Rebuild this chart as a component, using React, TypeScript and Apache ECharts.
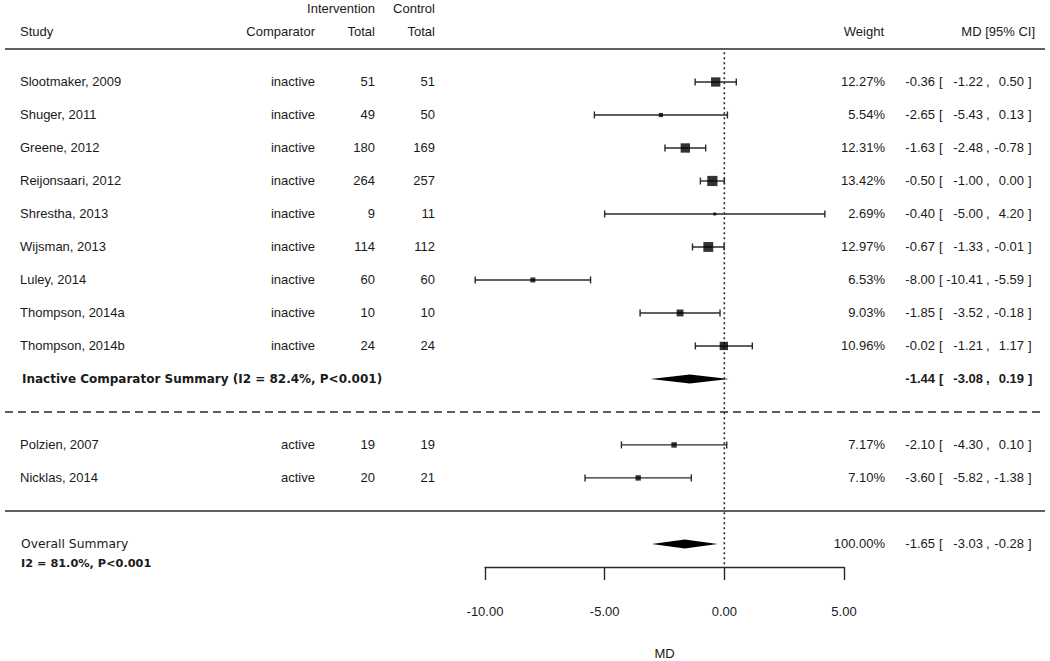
import React, { useEffect, useRef } from "react";
import * as echarts from "echarts";

const studies = [
  "Slootmaker, 2009", "Shuger, 2011", "Greene, 2012", "Reijonsaari, 2012", "Shrestha, 2013",
  "Wijsman, 2013", "Luley, 2014", "Thompson, 2014a", "Thompson, 2014b", "Polzien, 2007", "Nicklas, 2014",
];
const comparators = [
  "inactive", "inactive", "inactive", "inactive", "inactive", "inactive", "inactive", "inactive", "inactive", "active", "active",
];
const interventionN = [51, 49, 180, 264, 9, 114, 60, 10, 24, 19, 20];
const controlN = [51, 50, 169, 257, 11, 112, 60, 10, 24, 19, 21];
const weights = [12.27, 5.54, 12.31, 13.42, 2.69, 12.97, 6.53, 9.03, 10.96, 7.17, 7.1];
const md = [-0.36, -2.65, -1.63, -0.5, -0.4, -0.67, -8.0, -1.85, -0.02, -2.1, -3.6];
const lower = [-1.22, -5.43, -2.48, -1.0, -5.0, -1.33, -10.41, -3.52, -1.21, -4.3, -5.82];
const upper = [0.5, 0.13, -0.78, 0.0, 4.2, -0.01, -5.59, -0.18, 1.17, 0.1, -1.38];

const summaryLabels = ["Inactive Comparator Summary (I2 = 82.4%, P<0.001)", "Overall Summary"];
const summaryWeights = ["", "100.00%"];
const summaryMd = [-1.44, -1.65];
const summaryLower = [-3.08, -3.03];
const summaryUpper = [0.19, -0.28];
const overallHet = "I2 = 81.0%, P<0.001";

const xTicks = [-10, -5, 0, 5];

const headerTop = ["Intervention", "Control"];
const headerBottom = ["Study", "Comparator", "Total", "Total", "Weight", "MD [95% CI]"];

export default function App() {
  const ref = useRef<HTMLDivElement>(null);
  useEffect(() => {
    document.body.style.margin = "0";
    const chart = echarts.init(ref.current!, null, { renderer: "svg" });

    const nInactive = comparators.filter((c) => c === "inactive").length;
    const rows = studies.map((_, i) => (i < nInactive ? i : i + 2));
    const summaryRows = [nInactive, studies.length + 3];
    const dashedRow = nInactive + 1;
    const solidRow = studies.length + 2;
    const lineColor = "#2a2a2a";
    const textColor = "#1a1a1a";
    const sans = "Liberation Sans, Arial, sans-serif";
    const lucida = "DejaVu Sans, sans-serif";

    const option: any = {
      animation: false,
      grid: { left: 485, right: 206, top: 49, bottom: 94, containLabel: false, outerBoundsMode: "none" },
      xAxis: {
        type: "value",
        min: -10,
        max: 5,
        interval: 5,
        splitLine: { show: false },
        axisLine: { show: true, onZero: false, lineStyle: { color: lineColor, width: 1.4 } },
        axisTick: { show: true, inside: false, length: 13, lineStyle: { color: lineColor, width: 1.4 } },
        axisLabel: {
          margin: 38,
          color: textColor,
          fontFamily: sans,
          fontSize: 13,
          formatter: (v: number) => (xTicks.includes(v) ? v.toFixed(2) : ""),
        },
        name: "MD",
        nameLocation: "middle",
        nameGap: 80,
        nameTextStyle: { color: textColor, fontFamily: sans, fontSize: 13 },
      },
      yAxis: { type: "value", inverse: true, min: -1, max: 14.7, show: false },
      series: [
        {
          type: "line",
          data: [[0, -0.9], [0, 14.7]],
          symbol: "none",
          lineStyle: { color: lineColor, width: 1.6, type: [2, 3] },
          z: 1,
        },
        {
          type: "custom",
          data: studies.map((_, i) => [lower[i], upper[i], rows[i]]),
          renderItem: (params: any, api: any) => {
            const p1 = api.coord([api.value(0), api.value(2)]);
            const p2 = api.coord([api.value(1), api.value(2)]);
            const h = 3.5;
            const style = { stroke: lineColor, lineWidth: 1.4 };
            return {
              type: "group",
              children: [
                { type: "line", shape: { x1: p1[0], y1: p1[1], x2: p2[0], y2: p2[1] }, style },
                { type: "line", shape: { x1: p1[0], y1: p1[1] - h, x2: p1[0], y2: p1[1] + h }, style },
                { type: "line", shape: { x1: p2[0], y1: p2[1] - h, x2: p2[0], y2: p2[1] + h }, style },
              ],
            };
          },
          z: 2,
        },
        {
          type: "scatter",
          symbol: "rect",
          data: studies.map((_, i) => [md[i], rows[i]]),
          symbolSize: (_v: any, p: any) => Math.max(3, weights[p.dataIndex] * 0.76),
          itemStyle: { color: "#000" },
          z: 3,
        },
        {
          type: "custom",
          data: summaryMd.map((m, i) => [m, summaryLower[i], summaryUpper[i], summaryRows[i]]),
          renderItem: (params: any, api: any) => {
            const c = api.coord([api.value(0), api.value(3)]);
            const l = api.coord([api.value(1), api.value(3)]);
            const u = api.coord([api.value(2), api.value(3)]);
            const h = 4.5;
            return {
              type: "polygon",
              shape: { points: [[l[0], c[1]], [c[0], c[1] - h], [u[0], c[1]], [c[0], c[1] + h]] },
              style: { fill: "#000" },
            };
          },
          z: 3,
        },
      ],
    };
    chart.setOption(option);

    const yPix = (r: number) => chart.convertToPixel({ yAxisIndex: 0 }, r) as number;
    const txt = (x: number, y: number, text: string, align: string, extra: any = {}) => ({
      type: "text",
      x,
      y,
      silent: true,
      style: {
        text,
        align,
        verticalAlign: "middle",
        fill: textColor,
        font: `13px ${sans}`,
        ...extra,
      },
    });
    const ciParts = (y: number, m: number, l: number, u: number, bold: boolean) => {
      const ex = bold ? { font: `bold 13px ${sans}` } : {};
      return [
        txt(935, y, m.toFixed(2), "right", ex),
        txt(939, y, "[", "left", ex),
        txt(983, y, l.toFixed(2), "right", ex),
        txt(986, y, ",", "left", ex),
        txt(1024, y, u.toFixed(2), "right", ex),
        txt(1028, y, "]", "left", ex),
      ];
    };

    const graphics: any[] = [];
    graphics.push(txt(375, 8, headerTop[0], "right"));
    graphics.push(txt(435, 8, headerTop[1], "right"));
    const hy = 31;
    graphics.push(txt(20, hy, headerBottom[0], "left"));
    graphics.push(txt(315, hy, headerBottom[1], "right"));
    graphics.push(txt(375, hy, headerBottom[2], "right"));
    graphics.push(txt(435, hy, headerBottom[3], "right"));
    graphics.push(txt(884, hy, headerBottom[4], "right"));
    graphics.push(txt(1035, hy, headerBottom[5], "right"));

    const hLine = (y: number, dashed: boolean) => ({
      type: "line",
      silent: true,
      shape: { x1: 5, y1: y, x2: 1045, y2: y },
      style: { stroke: lineColor, lineWidth: 1.5, lineDash: dashed ? [8, 5] : null },
    });
    graphics.push(hLine(yPix(-1), false));
    graphics.push(hLine(yPix(dashedRow), true));
    graphics.push(hLine(yPix(solidRow), false));

    studies.forEach((s, i) => {
      const y = yPix(rows[i]);
      graphics.push(txt(20, y, s, "left"));
      graphics.push(txt(315, y, comparators[i], "right"));
      graphics.push(txt(375, y, String(interventionN[i]), "right"));
      graphics.push(txt(435, y, String(controlN[i]), "right"));
      graphics.push(txt(885, y, weights[i].toFixed(2) + "%", "right"));
      graphics.push(...ciParts(y, md[i], lower[i], upper[i], false));
    });

    const y0 = yPix(summaryRows[0]);
    graphics.push(txt(22, y0, summaryLabels[0], "left", { font: `bold 12px ${lucida}` }));
    graphics.push(...ciParts(y0, summaryMd[0], summaryLower[0], summaryUpper[0], true));
    const y1 = yPix(summaryRows[1]);
    graphics.push(txt(21, y1, summaryLabels[1], "left", { font: `12.3px ${lucida}` }));
    graphics.push(txt(21, y1 + 20, overallHet, "left", { font: `bold 11.3px ${lucida}` }));
    graphics.push(txt(885, y1, summaryWeights[1], "right"));
    graphics.push(...ciParts(y1, summaryMd[1], summaryLower[1], summaryUpper[1], false));

    chart.setOption({ graphic: { elements: graphics } });

    return () => chart.dispose();
  }, []);
  return <div ref={ref} style={{ width: 1050, height: 661 }} />;
}
